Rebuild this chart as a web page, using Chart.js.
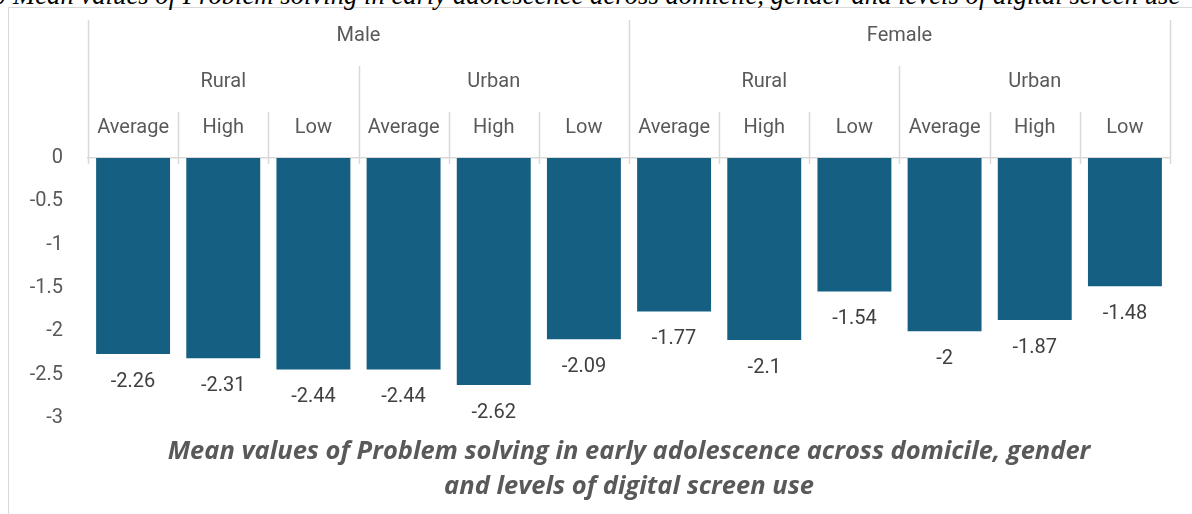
<!DOCTYPE html>
<html>
<head>
<meta charset="utf-8">
<script src="https://cdn.jsdelivr.net/npm/chart.js@4.4.1/dist/chart.umd.min.js"></script>
<style>
  html, body { margin: 0; padding: 0; background: #ffffff; overflow: hidden; }
  #wrap { position: relative; width: 1192px; height: 514px; overflow: hidden; }
  #frame { position: absolute; left: 8px; top: 7px; width: 1300px; height: 600px;
           border-left: 1px solid #d9d9d9; border-top: 1px solid #d9d9d9; }
  #cut { position: absolute; left: 13px; top: -18px; font-family: "Liberation Serif", serif;
         font-style: italic; font-size: 26.7px; line-height: 26.7px; white-space: nowrap; color: #000; }
  #cut span { position: absolute; right: 100%; top: 0; }
  canvas { position: absolute; left: 0; top: 0; }
</style>
</head>
<body>
<div id="wrap">
  <div id="frame"></div>
  <div id="cut"><span>Figure 10&nbsp;</span>Mean values of Problem solving in early adolescence across domicile, gender and levels of digital screen use</div>
  <canvas id="c" width="1192" height="514"></canvas>
</div>
<script>
const levelLabels = ['Average','High','Low','Average','High','Low','Average','High','Low','Average','High','Low'];
const domicileLabels = ['Rural','Urban','Rural','Urban'];
const genderLabels = ['Male','Female'];
const values = [-2.26, -2.31, -2.44, -2.44, -2.62, -2.09, -1.77, -2.1, -1.54, -2, -1.87, -1.48];
const yTickValues = [0, -0.5, -1, -1.5, -2, -2.5, -3];
const titleLines = ['Mean values of Problem solving in early adolescence across domicile, gender', 'and levels of digital screen use'];

const AXIS_COLOR = '#595959';
const LINE_COLOR = '#d9d9d9';

const headerPlugin = {
  id: 'headers',
  afterDraw(chart) {
    const ctx = chart.ctx;
    const xs = chart.scales.x;
    const top = chart.chartArea.top;
    const n = levelLabels.length;
    const half = (xs.getPixelForValue(1) - xs.getPixelForValue(0)) / 2;
    const edge = i => (i < n ? xs.getPixelForValue(i) - half : xs.getPixelForValue(n - 1) + half);
    ctx.save();
    ctx.strokeStyle = LINE_COLOR;
    ctx.lineWidth = 1.5;
    for (let i = 0; i <= n; i++) {
      const x = Math.round(edge(i)) + 0.5;
      const t = (i % 6 === 0) ? top - 138 : (i % 3 === 0 ? top - 92 : top - 46);
      ctx.beginPath();
      ctx.moveTo(x, t);
      ctx.lineTo(x, top + 6);
      ctx.stroke();
    }
    ctx.fillStyle = AXIS_COLOR;
    ctx.font = '20px Roboto';
    ctx.textAlign = 'center';
    ctx.textBaseline = 'middle';
    levelLabels.forEach((l, i) => ctx.fillText(l, xs.getPixelForValue(i), top - 30));
    domicileLabels.forEach((l, g) => ctx.fillText(l, (edge(g * 3) + edge(g * 3 + 3)) / 2, top - 76));
    genderLabels.forEach((l, g) => ctx.fillText(l, (edge(g * 6) + edge(g * 6 + 6)) / 2, top - 122));
    ctx.restore();
  }
};

const labelPlugin = {
  id: 'barLabels',
  afterDatasetsDraw(chart) {
    const ctx = chart.ctx;
    const meta = chart.getDatasetMeta(0);
    ctx.save();
    ctx.fillStyle = '#404040';
    ctx.font = '20px Roboto';
    ctx.textAlign = 'center';
    ctx.textBaseline = 'middle';
    meta.data.forEach((bar, i) => {
      ctx.fillText(String(values[i]), bar.x, bar.y + 28);
    });
    ctx.restore();
  }
};

new Chart(document.getElementById('c'), {
  type: 'bar',
  data: {
    labels: levelLabels,
    datasets: [{
      data: values,
      backgroundColor: '#156082',
      borderWidth: 0,
      barPercentage: 0.82,
      categoryPercentage: 1
    }]
  },
  options: {
    responsive: false,
    animation: false,
    devicePixelRatio: 1,
    layout: { padding: { left: 8, right: 22, top: 8, bottom: 6 } },
    plugins: {
      legend: { display: false },
      tooltip: { enabled: false },
      title: {
        display: true,
        position: 'bottom',
        fullSize: false,
        text: titleLines,
        color: AXIS_COLOR,
        font: { family: 'Open Sans', size: 25.5, weight: 'bold', style: 'italic', lineHeight: 1.38 },
        padding: { top: 16, bottom: 3.6 }
      }
    },
    scales: {
      x: {
        position: 'top',
        grid: { display: false },
        ticks: { display: false },
        border: { display: true, color: LINE_COLOR, width: 1.5 },
        afterFit(s) { s.height = 150; }
      },
      y: {
        min: -3,
        max: 0,
        afterBuildTicks(s) { s.ticks = yTickValues.map(v => ({ value: v })); },
        ticks: {
          color: AXIS_COLOR,
          font: { family: 'Roboto', size: 20 },
          padding: 17,
          callback: v => String(v)
        },
        grid: { display: false },
        border: { display: false },
        afterFit(s) { s.width = 80; }
      }
    }
  },
  plugins: [headerPlugin, labelPlugin]
});
</script>
</body>
</html>
